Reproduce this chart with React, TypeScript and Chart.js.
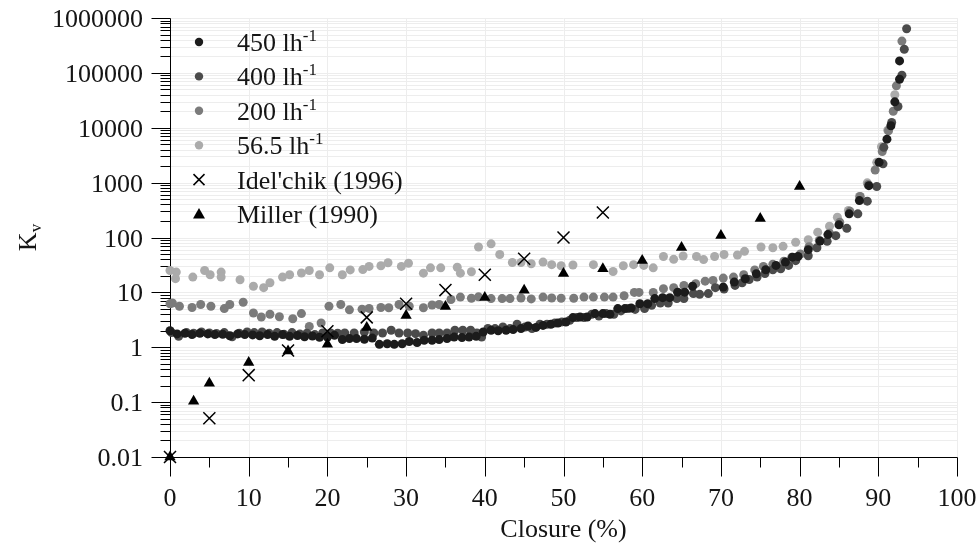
import { useEffect, useRef } from 'react';
import { Chart, registerables } from 'chart.js';

Chart.register(...registerables);

const FONT = '"Liberation Serif", "DejaVu Serif", serif';
const INK = '#151515';

// Measured loss coefficient Kv against valve closure (%), one array per flow rate.
const FLOW_450: [number, number][] = [
  [0, 2.0], [0.9, 1.75], [1.9, 1.8], [2.8, 1.7], [3.8, 1.8], [4.8, 1.75], [5.7, 1.7], [6.7, 1.72],
  [7.6, 1.62], [8.6, 1.75], [9.5, 1.7], [10.5, 1.68], [11.4, 1.62], [12.4, 1.7], [13.3, 1.58],
  [14.3, 1.7], [15.2, 1.58], [16.2, 1.64], [17.1, 1.55], [18.1, 1.6], [19.0, 1.52], [20.0, 1.54],
  [20.9, 1.65], [21.9, 1.38], [22.8, 1.44], [23.7, 1.44], [24.7, 1.4], [25.7, 1.47], [26.6, 1.13],
  [27.6, 1.16], [28.5, 1.13], [29.5, 1.16], [30.4, 1.27], [31.4, 1.22], [32.3, 1.34], [33.3, 1.34],
  [34.2, 1.38], [35.2, 1.44], [36.1, 1.54], [37.1, 1.5], [38.0, 1.54], [38.9, 1.58], [39.8, 1.9],
  [40.8, 2.04], [41.7, 2.0], [42.7, 2.04], [43.6, 2.1], [44.6, 2.19], [45.5, 2.44], [46.5, 2.3],
  [47.4, 2.5], [48.4, 2.62], [49.3, 2.77], [50.3, 2.88], [51.2, 3.47], [52.1, 3.55], [53.0, 3.55],
  [54.0, 4.1], [55.0, 4.1], [55.9, 3.98], [56.9, 5.06], [57.8, 5.06], [58.6, 5.2], [59.7, 6.2],
  [60.7, 6.2], [61.6, 7.7], [62.6, 8.0], [63.5, 8.0], [64.5, 10.1], [65.4, 10.1], [66.4, 12.9],
  [70.3, 12.5], [71.7, 15.4], [73.1, 17.7], [74.5, 21.9], [75.7, 25.9], [77.0, 31], [78.2, 35.6],
  [79.1, 43.8], [79.8, 45], [81.1, 60], [82.6, 86], [83.6, 113], [85.0, 170], [86.3, 270],
  [87.6, 470], [88.8, 880], [90.1, 2340], [91.1, 6200], [91.6, 10900], [92.1, 29700],
  [92.7, 76700], [92.7, 165000],
];

const FLOW_400: [number, number][] = [
  [0.2, 1.85], [1.1, 1.58], [2.1, 1.85], [3.0, 1.8], [4.0, 1.9], [5.0, 1.82], [5.9, 1.78],
  [6.9, 1.85], [7.9, 1.55], [8.8, 1.8], [9.8, 1.9], [10.7, 1.85], [11.7, 1.9], [12.6, 1.8],
  [13.6, 1.85], [14.5, 1.72], [15.5, 1.85], [16.5, 1.75], [17.4, 1.8], [18.4, 1.7], [19.4, 1.82],
  [20.4, 1.82], [21.3, 1.8], [22.2, 1.82], [23.4, 1.82], [24.7, 1.9], [25.9, 1.82], [27.0, 1.82],
  [28.1, 2.04], [29.1, 1.82], [30.2, 1.82], [31.2, 1.77], [32.2, 1.65], [33.3, 1.82], [34.2, 1.82],
  [35.2, 1.82], [36.2, 2.04], [37.2, 2.04], [38.2, 2.04], [39.0, 1.82], [39.6, 1.54], [40.4, 2.2],
  [41.3, 2.19], [42.3, 2.34], [43.2, 2.19], [44.1, 2.62], [45.1, 2.34], [46.0, 2.2], [47.0, 2.62],
  [47.9, 2.62], [48.9, 2.77], [49.8, 2.9], [50.8, 3.1], [51.7, 3.47], [52.6, 3.47], [53.6, 4.0],
  [54.5, 3.7], [55.4, 4.1], [56.4, 4.0], [57.3, 4.6], [58.2, 5.06], [59.1, 4.9], [60.3, 5.06],
  [61.2, 5.8], [62.3, 6.4], [63.3, 6.4], [64.4, 7.7], [65.3, 7.7], [66.5, 9.5], [67.3, 9.2],
  [68.4, 9.5], [69.3, 12.2], [70.4, 11.5], [71.8, 13.4], [72.7, 15], [73.6, 17.2], [74.6, 19],
  [75.6, 22], [76.6, 25.9], [77.6, 27], [78.6, 31], [79.5, 37.8], [81.1, 46.5], [82.2, 65],
  [83.5, 85], [84.6, 108], [86.0, 147], [87.4, 270], [88.6, 460], [89.8, 850], [90.6, 2200],
  [90.7, 4400], [91.7, 12500], [92.5, 24400], [93.0, 90800], [93.3, 269000], [93.6, 638000],
];

const FLOW_200: [number, number][] = [
  [0, 6.2], [0.3, 6.4], [1.2, 5.6], [2.8, 5.3], [3.9, 6.0], [5.2, 5.6], [6.9, 5.06], [7.6, 6.0],
  [9.3, 6.6], [10.6, 4.2], [11.6, 3.56], [12.7, 4.0], [13.9, 3.6], [15.6, 3.3], [16.7, 4.1],
  [17.7, 2.4], [19.2, 2.77], [20.2, 5.6], [21.7, 6.0], [22.8, 4.8], [24.4, 4.95], [25.3, 5.1],
  [26.8, 5.3], [27.8, 5.25], [29.1, 6.0], [30.4, 5.6], [32.2, 5.25], [33.3, 5.9], [34.2, 6.0],
  [35.7, 7.4], [36.9, 8.2], [38.3, 7.8], [39.2, 8.3], [40.8, 7.7], [42.2, 7.7], [43.2, 7.7],
  [44.6, 7.9], [45.9, 7.6], [47.4, 8.2], [48.5, 7.9], [49.7, 7.8], [51.3, 7.8], [52.6, 8.2],
  [53.8, 8.2], [55.2, 8.2], [56.3, 8.2], [57.7, 8.7], [59.0, 10.0], [59.6, 10.0], [61.4, 10.0],
  [62.7, 11.7], [64.0, 12.2], [65.3, 13.4], [66.8, 14.4], [68.0, 16.0], [69.0, 16.5], [70.3, 18.2],
  [71.6, 19.0], [72.9, 21.0], [74.3, 25.7], [75.4, 29.7], [76.6, 32.5], [78.0, 37], [79.0, 43.5],
  [80.1, 50], [81.2, 68], [82.5, 88], [83.8, 120], [85.1, 190], [86.4, 300], [87.7, 560],
  [88.7, 920], [89.6, 1700], [90.5, 3700], [91.3, 8800], [91.9, 20000], [92.3, 58000],
  [93.0, 380000],
];

const FLOW_56_5: [number, number][] = [
  [0, 25], [0.7, 17.8], [0.8, 23.4], [2.9, 19], [4.4, 25], [5.1, 21], [6.5, 23.4], [6.5, 19],
  [8.9, 17], [10.6, 12.9], [11.9, 12.2], [12.7, 15], [14.3, 19], [15.2, 21], [16.7, 22.5],
  [17.7, 25], [19.0, 21], [20.3, 28], [21.9, 21], [22.9, 25.7], [24.5, 26], [25.3, 29.7],
  [26.8, 30.6], [27.7, 34.7], [29.4, 29.7], [30.3, 34], [32.2, 22.4], [33.1, 28], [34.4, 28],
  [36.5, 28.7], [36.9, 22.4], [38.3, 23.8], [39.2, 67], [40.8, 76.7], [41.9, 49], [43.5, 35],
  [44.6, 35], [45.9, 33.3], [47.4, 35.6], [48.5, 32], [49.7, 30.5], [51.2, 31.5], [53.8, 32],
  [56.3, 24], [57.6, 30.5], [58.9, 32], [60.2, 31], [61.4, 28], [62.7, 45], [64.0, 40],
  [65.2, 46], [66.9, 45], [67.8, 39.6], [69.2, 45], [70.4, 49], [72.1, 48], [73.0, 56],
  [75.1, 67], [76.6, 65], [77.9, 69], [79.5, 82], [81.1, 91], [82.3, 125], [83.8, 160],
  [84.8, 234], [86.2, 310], [87.6, 560], [88.6, 990], [89.8, 2340], [90.4, 4500], [91.2, 9000],
  [92.1, 40000],
];

// Published correlations
const IDELCHIK: [number, number][] = [
  [0, 0.01], [5, 0.051], [10, 0.31], [15, 0.87], [20, 1.96], [25, 3.5], [30, 6.2], [35, 11],
  [40, 21], [45, 41], [50, 100], [55, 285],
];

const MILLER: [number, number][] = [
  [0, 0.01], [3, 0.104], [5, 0.22], [10, 0.53], [15, 0.85], [20, 1.13], [25, 2.3], [30, 3.8],
  [35, 5.5], [40, 8.1], [45, 10.9], [50, 22], [55, 27], [60, 38], [65, 66], [70, 109], [75, 221],
  [80, 846],
];

const FLOW_RATES = ['450', '400', '200', '56.5'];
const FLOW_COLORS = ['#1c1c1c', '#4b4b4b', '#7b7b7b', '#ababab'];
const REFERENCE_LABELS = ["Idel'chik (1996)", 'Miller (1990)'];

const X_TICKS = [0, 10, 20, 30, 40, 50, 60, 70, 80, 90, 100];
const X_MINOR_TICKS = [5, 15, 25, 35, 45, 55, 65, 75, 85, 95];
const Y_TICKS = [0.01, 0.1, 1, 10, 100, 1000, 10000, 100000, 1000000];
const Y_TICK_LABELS = ['0.01', '0.1', '1', '10', '100', '1000', '10000', '100000', '1000000'];
const X_TITLE = 'Closure (%)';

const px = (v: number) => Math.round(v) + 0.5;

const axesPlugin = {
  id: 'axesFrame',
  beforeDatasetsDraw(chart: any) {
    const { ctx, chartArea: a, scales } = chart;
    const xs = scales.x;
    const ys = scales.y;
    ctx.save();

    // faint grid: decades with their minor lines, and every 10 % closure
    ctx.strokeStyle = '#ededed';
    ctx.lineWidth = 1;
    ctx.beginPath();
    for (let i = 0; i < Y_TICKS.length; i++) {
      for (let k = 1; k <= 9; k++) {
        const v = Y_TICKS[i] * k;
        if (v > Y_TICKS[Y_TICKS.length - 1]) break;
        const y = px(ys.getPixelForValue(v));
        ctx.moveTo(a.left, y);
        ctx.lineTo(a.right, y);
      }
    }
    for (const t of X_TICKS) {
      const x = px(xs.getPixelForValue(t));
      ctx.moveTo(x, a.top);
      ctx.lineTo(x, a.bottom);
    }
    ctx.stroke();

    // axis lines and tick marks
    ctx.strokeStyle = '#000';
    ctx.lineWidth = 1;
    ctx.beginPath();
    const left = px(a.left);
    const bottom = px(a.bottom);
    ctx.moveTo(left, px(a.top));
    ctx.lineTo(left, bottom);
    ctx.moveTo(left, bottom);
    ctx.lineTo(px(a.right), bottom);
    for (let i = 0; i < Y_TICKS.length; i++) {
      const y = px(ys.getPixelForValue(Y_TICKS[i]));
      ctx.moveTo(left - 19, y);
      ctx.lineTo(left, y);
      if (i < Y_TICKS.length - 1) {
        for (let k = 2; k <= 9; k++) {
          const ym = px(ys.getPixelForValue(Y_TICKS[i] * k));
          ctx.moveTo(left - 10, ym);
          ctx.lineTo(left, ym);
        }
      }
    }
    for (const t of X_TICKS) {
      const x = px(xs.getPixelForValue(t));
      ctx.moveTo(x, bottom);
      ctx.lineTo(x, bottom + 19);
    }
    for (const t of X_MINOR_TICKS) {
      const x = px(xs.getPixelForValue(t));
      ctx.moveTo(x, bottom);
      ctx.lineTo(x, bottom + 10);
    }
    ctx.stroke();

    // tick labels
    ctx.fillStyle = INK;
    ctx.font = `26px ${FONT}`;
    ctx.textBaseline = 'alphabetic';
    ctx.textAlign = 'right';
    Y_TICKS.forEach((v, i) => {
      ctx.fillText(Y_TICK_LABELS[i], a.left - 27, ys.getPixelForValue(v) + 9);
    });
    ctx.textAlign = 'center';
    X_TICKS.forEach((t) => {
      ctx.fillText(String(t), xs.getPixelForValue(t), a.bottom + 49);
    });

    // axis titles
    ctx.fillText(X_TITLE, (a.left + a.right) / 2, a.bottom + 80);

    ctx.save();
    ctx.translate(27, (a.top + a.bottom) / 2);
    ctx.rotate(-Math.PI / 2);
    ctx.textAlign = 'left';
    ctx.font = `26px ${FONT}`;
    const wK = ctx.measureText('K').width;
    ctx.font = `17px ${FONT}`;
    const wv = ctx.measureText('v').width;
    const start = -(wK + wv) / 2;
    ctx.font = `26px ${FONT}`;
    ctx.fillText('K', start, 9);
    ctx.font = `17px ${FONT}`;
    ctx.fillText('v', start + wK, 14);
    ctx.restore();

    ctx.restore();
  },
};

const legendPlugin = {
  id: 'insetLegend',
  afterDatasetsDraw(chart: any) {
    const { ctx, chartArea: a } = chart;
    const mx = a.left + 29;
    const tx = a.left + 67;
    const y0 = a.top + 24;
    const dy = 34.4;
    ctx.save();
    ctx.textAlign = 'left';
    ctx.textBaseline = 'alphabetic';

    FLOW_RATES.forEach((rate, i) => {
      const y = y0 + i * dy;
      ctx.fillStyle = FLOW_COLORS[i];
      ctx.beginPath();
      ctx.arc(mx, y, 4.2, 0, Math.PI * 2);
      ctx.fill();
      ctx.fillStyle = INK;
      ctx.font = `26px ${FONT}`;
      const main = `${rate} lh`;
      ctx.fillText(main, tx, y + 9);
      const w = ctx.measureText(main).width;
      ctx.font = `17px ${FONT}`;
      ctx.fillText('-1', tx + w, y - 1);
    });

    // cross marker
    let y = y0 + 4 * dy;
    ctx.strokeStyle = '#000';
    ctx.fillStyle = INK;
    ctx.lineWidth = 1.5;
    ctx.beginPath();
    ctx.moveTo(mx - 5.5, y - 5.5);
    ctx.lineTo(mx + 5.5, y + 5.5);
    ctx.moveTo(mx + 5.5, y - 5.5);
    ctx.lineTo(mx - 5.5, y + 5.5);
    ctx.stroke();
    ctx.font = `26px ${FONT}`;
    ctx.fillText(REFERENCE_LABELS[0], tx, y + 9);

    // triangle marker
    y = y0 + 5 * dy;
    ctx.fillStyle = '#000';
    ctx.beginPath();
    ctx.moveTo(mx, y - 6);
    ctx.lineTo(mx + 6, y + 4.5);
    ctx.lineTo(mx - 6, y + 4.5);
    ctx.closePath();
    ctx.fill();
    ctx.fillStyle = INK;
    ctx.fillText(REFERENCE_LABELS[1], tx, y + 9);
    ctx.restore();
  },
};

const toPoints = (rows: [number, number][]) => rows.map(([x, y]) => ({ x, y }));

export default function App() {
  const ref = useRef<HTMLCanvasElement>(null);

  useEffect(() => {
    const canvas = ref.current;
    if (!canvas) return;
    const flows = [FLOW_450, FLOW_400, FLOW_200, FLOW_56_5];
    const flowSets = flows.map((rows, i) => ({
      label: `${FLOW_RATES[i]} lh-1`,
      data: toPoints(rows),
      pointStyle: 'circle',
      pointRadius: 4.5,
      pointHoverRadius: 4.5,
      borderWidth: 0,
      backgroundColor: FLOW_COLORS[i],
      borderColor: FLOW_COLORS[i],
      clip: false,
      order: 2 + i,
    }));
    const chart = new Chart(canvas, {
      type: 'scatter',
      data: {
        datasets: [
          {
            label: REFERENCE_LABELS[0],
            data: toPoints(IDELCHIK),
            pointStyle: 'crossRot',
            pointRadius: 8.5,
            pointHoverRadius: 8.5,
            borderColor: '#000',
            backgroundColor: '#000',
            borderWidth: 1.5,
            clip: false,
            order: 0,
          },
          {
            label: REFERENCE_LABELS[1],
            data: toPoints(MILLER),
            pointStyle: 'triangle',
            pointRadius: 6.5,
            pointHoverRadius: 6.5,
            borderColor: '#000',
            backgroundColor: '#000',
            borderWidth: 0,
            clip: false,
            order: 1,
          },
          ...flowSets,
        ] as any,
      },
      options: {
        responsive: false,
        animation: false,
        events: [],
        layout: { padding: { top: 18, right: 22, left: 0, bottom: 0 } },
        plugins: { legend: { display: false }, tooltip: { enabled: false } },
        scales: {
          x: {
            type: 'linear',
            min: 0,
            max: 100,
            grid: { display: false },
            border: { display: false },
            ticks: { display: false },
            afterFit: (s: any) => {
              s.height = 89;
            },
          },
          y: {
            type: 'logarithmic',
            min: 0.01,
            max: 1000000,
            grid: { display: false },
            border: { display: false },
            ticks: { display: false },
            afterFit: (s: any) => {
              s.width = 170;
            },
          },
        },
      },
      plugins: [axesPlugin, legendPlugin],
    });
    return () => chart.destroy();
  }, []);

  return (
    <canvas
      ref={ref}
      width={979}
      height={546}
      style={{ position: 'fixed', left: 0, top: 0, display: 'block', background: '#fff' }}
    />
  );
}
